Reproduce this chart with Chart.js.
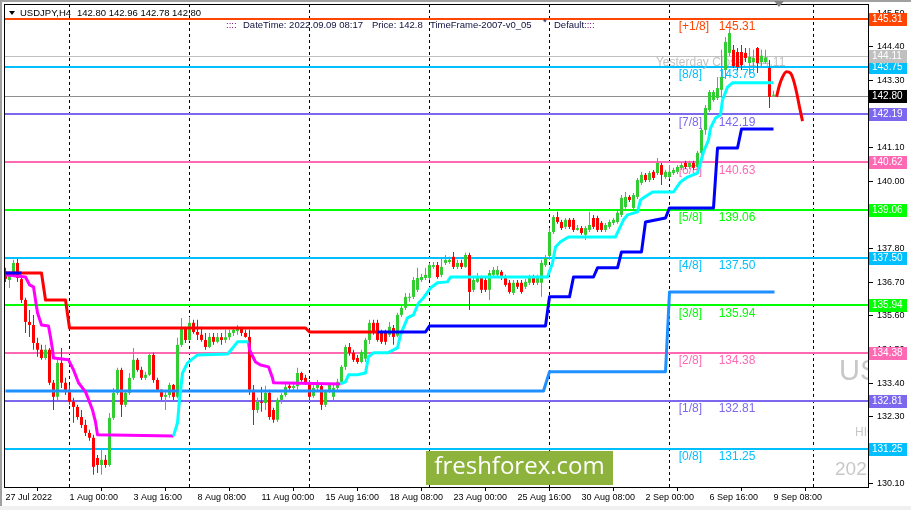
<!DOCTYPE html>
<html>
<head>
<meta charset="utf-8">
<script src="https://cdn.jsdelivr.net/npm/chart.js@4.4.0/dist/chart.umd.min.js"></script>
<style>
html, body { margin: 0; padding: 0; background: #fff; }
canvas { display: block; }
</style>
</head>
<body>
<canvas id="chart" width="911" height="510"></canvas>
<script>
// USDJPY H4, bar 0 = 27 Jul 2022 08:00 ... bar 192 = 9 Sep 2022 08:00
// rows: [open, high, low, close]
const ohlc = [
  [137.04,137.17,136.71,136.81],[136.77,137.04,136.51,136.94],[136.94,137.43,136.87,137.33],[137.33,137.46,136.71,136.84],
  [136.80,136.84,136.02,136.12],[136.12,136.19,135.04,135.40],[135.40,135.79,134.91,135.30],[135.30,135.63,134.49,134.71],
  [134.71,134.88,134.26,134.49],[134.49,134.65,134.16,134.22],[134.22,134.65,134.16,134.49],[134.49,134.55,133.34,133.41],
  [133.41,133.50,132.52,132.95],[132.95,134.16,132.85,134.06],[134.06,134.55,133.24,133.41],[133.41,133.57,133.01,133.18],
  [133.18,133.34,132.69,132.79],[132.79,132.92,132.10,132.62],[132.62,132.69,132.20,132.29],[132.29,132.52,131.93,132.03],
  [132.03,132.20,131.67,131.77],[131.77,131.87,131.51,131.61],[131.61,131.71,130.40,130.66],[130.95,131.05,130.46,130.72],
  [130.72,131.22,130.40,130.89],[130.89,131.05,130.63,130.72],[130.72,132.42,130.66,132.26],[132.26,133.24,132.20,133.08],
  [133.08,133.90,133.01,133.83],[133.83,133.90,132.29,132.69],[132.69,133.18,132.62,133.08],[133.08,133.73,133.01,133.57],
  [133.57,134.55,133.50,134.16],[134.16,134.22,133.77,133.83],[133.83,133.93,133.50,133.57],[133.57,133.77,133.50,133.67],
  [133.67,134.39,133.63,134.32],[134.32,134.39,133.41,133.50],[133.50,133.57,133.11,133.18],[133.18,133.20,132.85,132.95],
  [132.95,133.11,132.52,133.01],[133.01,133.41,132.92,133.34],[133.34,133.37,132.85,132.95],[132.95,134.88,132.90,134.65],
  [134.65,135.53,134.58,135.20],[135.20,135.24,134.71,134.81],[134.81,135.56,134.78,135.37],[135.37,135.47,135.01,135.07],
  [135.07,135.47,134.81,134.98],[134.98,135.24,134.75,134.81],[134.81,135.04,134.49,134.58],[134.58,135.04,134.55,134.91],
  [134.91,135.04,134.65,134.75],[134.75,135.04,134.70,134.90],[134.90,135.04,134.65,134.81],[134.81,135.14,134.71,134.90],
  [134.90,135.14,134.81,135.04],[135.04,135.24,134.94,135.14],[135.10,135.30,134.98,135.20],[135.20,135.24,134.94,135.04],
  [135.04,135.14,134.88,134.91],[134.91,135.14,133.01,133.18],[133.18,133.34,132.03,132.52],[132.52,132.92,132.42,132.79],
  [132.79,133.27,132.46,132.75],[132.75,133.31,132.52,133.08],[133.08,133.18,132.20,132.29],[132.52,132.59,132.10,132.20],
  [132.20,132.92,132.13,132.85],[132.85,133.08,132.72,133.01],[133.01,133.44,132.95,133.27],[133.31,133.37,133.18,133.24],
  [133.24,133.44,133.11,133.30],[133.30,133.90,133.18,133.73],[133.73,133.77,133.44,133.50],[133.57,133.67,133.34,133.41],
  [133.41,133.50,132.85,132.95],[132.98,133.34,132.92,133.24],[133.24,133.50,133.11,133.34],[133.30,133.40,132.52,132.69],
  [132.69,133.18,132.62,133.11],[133.11,133.41,133.08,133.34],[132.95,133.34,132.85,133.24],[133.24,133.54,133.18,133.44],
  [133.44,133.99,133.37,133.93],[133.93,134.65,133.83,134.58],[134.58,134.71,134.29,134.39],[134.39,134.49,134.09,134.16],
  [134.22,134.32,134.03,134.09],[134.09,134.49,134.05,134.42],[134.20,134.88,134.09,134.81],[134.81,135.47,134.68,135.37],
  [135.37,135.47,134.98,135.07],[135.37,135.47,134.75,134.81],[135.04,135.14,134.68,134.75],[135.04,135.14,134.65,134.75],
  [134.98,135.40,134.91,135.24],[135.20,135.30,134.65,134.91],[134.95,135.70,134.90,135.63],[135.63,135.96,135.56,135.86],
  [135.86,136.35,135.79,136.22],[136.19,136.35,136.06,136.22],[136.22,136.87,136.15,136.77],[136.45,137.17,136.38,136.84],
  [136.77,136.97,136.71,136.87],[136.84,137.17,136.77,136.94],[136.84,137.33,136.77,137.26],[137.20,137.36,137.13,137.26],
  [137.26,137.36,136.81,136.87],[136.94,137.49,136.87,137.20],[137.33,137.59,137.26,137.43],[137.36,137.53,137.30,137.43],
  [137.53,137.69,137.13,137.20],[137.20,137.43,137.13,137.33],[137.33,137.43,137.13,137.20],[137.20,137.66,137.17,137.59],
  [137.59,137.66,135.79,136.38],[136.45,136.87,136.38,136.77],[136.71,137.00,136.68,136.87],[136.84,136.91,136.35,136.45],
  [136.77,136.84,136.38,136.45],[136.45,137.10,136.12,137.00],[136.94,137.20,136.87,137.10],[136.94,137.23,136.87,137.10],
  [137.04,137.10,136.77,136.84],[136.84,136.94,136.55,136.61],[136.68,136.77,136.32,136.38],[136.35,136.77,136.28,136.68],
  [136.68,136.77,136.48,136.55],[136.68,136.77,136.32,136.38],[136.55,136.81,136.48,136.71],[136.68,136.94,136.61,136.84],
  [136.84,136.94,136.61,136.68],[136.68,136.94,136.61,136.84],[136.68,137.43,136.22,137.33],[137.26,137.59,137.20,137.49],
  [137.56,138.47,137.43,138.34],[138.34,138.90,138.28,138.83],[138.83,139.00,138.61,138.67],[138.67,138.74,138.41,138.47],
  [138.51,138.80,138.44,138.74],[138.74,138.80,138.44,138.51],[138.74,138.80,138.34,138.41],[138.41,138.57,138.38,138.47],
  [138.47,138.54,138.25,138.31],[138.25,138.54,138.08,138.47],[138.41,139.00,138.34,138.57],[138.80,138.90,138.44,138.51],
  [138.80,138.87,138.34,138.41],[138.64,138.70,138.34,138.41],[138.41,138.64,138.34,138.57],[138.51,138.74,138.44,138.67],
  [138.64,138.80,138.57,138.74],[138.67,139.06,138.61,138.97],[138.90,139.55,138.83,139.46],[139.16,139.65,139.10,139.49],
  [139.49,139.55,139.32,139.39],[139.13,139.62,139.06,139.55],[139.49,140.11,139.42,140.04],[139.95,140.31,139.88,140.21],
  [140.21,140.27,139.98,140.04],[140.04,140.34,139.98,140.27],[140.31,140.37,140.04,140.11],[140.27,140.76,140.21,140.60],
  [140.53,140.60,139.88,140.21],[140.14,140.37,140.08,140.31],[140.14,140.53,140.08,140.31],[140.27,140.44,140.21,140.37],
  [140.31,140.53,140.24,140.47],[140.44,140.63,140.37,140.53],[140.60,140.67,140.40,140.47],[140.47,140.67,140.40,140.60],
  [140.60,140.67,140.37,140.44],[140.47,140.99,140.40,140.93],[140.93,141.74,140.86,141.68],[141.68,142.50,141.52,142.40],
  [142.33,142.99,142.27,142.92],[142.66,142.99,142.60,142.92],[142.73,143.41,142.66,143.05],[142.99,144.30,142.73,143.41],
  [143.64,144.72,143.35,144.56],[144.20,144.98,144.10,144.85],[144.30,144.46,143.71,143.77],[144.23,144.36,143.64,143.74],
  [144.23,144.46,143.64,143.80],[144.20,144.36,143.90,144.03],[143.87,144.36,143.48,144.07],[143.90,144.30,143.58,144.03],
  [144.36,144.39,143.54,143.87],[143.90,144.30,143.71,144.11],[143.90,144.30,143.85,144.05],[143.71,143.97,142.40,142.76],
  [142.80,142.96,142.78,142.80]
];

const timeTicks = [0, 16, 32, 48, 64, 80, 96, 112, 128, 144, 160, 176, 192];
const timeLabels = ['27 Jul 2022', '1 Aug 00:00', '3 Aug 16:00', '8 Aug 08:00', '11 Aug 00:00', '15 Aug 16:00',
  '18 Aug 08:00', '23 Aug 00:00', '25 Aug 16:00', '30 Aug 08:00', '2 Sep 00:00', '6 Sep 16:00', '9 Sep 08:00'];
const priceTicks = [130.10, 131.20, 132.30, 133.40, 134.50, 135.60, 136.70, 137.80, 138.90, 140.00, 141.10, 142.20, 143.30, 144.40, 145.50];
const weekStarts = [16, 46, 76, 106, 136, 166, 202];

// Murrey math levels
const levelValues = [145.31, 143.75, 142.19, 140.62, 139.06, 137.50, 135.94, 134.38, 132.81, 131.25];
const levelNames = ['[+1/8]', '[8/8]', '[7/8]', '[6/8]', '[5/8]', '[4/8]', '[3/8]', '[2/8]', '[1/8]', '[0/8]'];
const levelTexts = ['145.31', '143.75', '142.19', '140.63', '139.06', '137.50', '135.94', '134.38', '132.81', '131.25'];
const levelColors = ['#FF4500', '#00BFFF', '#7B68EE', '#FF69B4', '#00FF00', '#00BFFF', '#00FF00', '#FF69B4', '#7B68EE', '#00BFFF'];
const yesterdayClose = 144.11;
const bidPrice = 142.80;

// indicator lines, [bar, price]
const trendRed = [[0,137.00],[9,137.00],[10,136.12],[15,136.12],[16,135.20],[75,135.20],[76,135.07],[93,135.07]];
const trendBlueStart = [[0,137.00],[4,137.00]];
const trendBlue = [[93,135.07],[105,135.07],[106,135.27],[135,135.27],[136,136.22],[141,136.22],[142,136.87],[147,136.87],
  [148,137.17],[153,137.17],[154,137.69],[159,137.69],[160,138.67],[165,138.80],[166,139.13],[177,139.13],
  [178,141.09],[183,141.09],[184,141.71],[192,141.71]];
const weeklyLine = [[0,133.14],[134.5,133.14],[136,133.77],[165,133.77],[166,136.38],[192.25,136.38]];
const stopDown1 = [[0,136.94],[5,136.87],[6,136.61],[7,136.55],[7.5,136.12],[8,135.70],[9,135.30],[10.75,135.27],
  [11.25,134.91],[11.75,134.49],[12,134.22],[15.75,134.16],[17,133.83],[18.25,133.41],[20,133.11],[20.5,132.95],
  [21.75,132.52],[22.5,132.13],[23,131.71],[42,131.67]];
const stopDown2 = [[60.75,134.75],[61,134.49],[62.5,134.09],[63.75,133.99],[65.75,133.93],[66.75,133.57],[67,133.41],[83.75,133.37]];
const stopUp1 = [[42,131.67],[43,132.10],[43.5,132.85],[44.25,133.73],[45.5,134.06],[48,134.32],[55.5,134.35],[57,134.58],
  [58,134.75],[60.75,134.75]];
const stopUp2 = [[83.75,133.37],[85,133.44],[85.75,133.67],[88,133.67],[90,133.73],[90.75,134.26],[92,134.39],[95.5,134.39],
  [98,134.55],[98.75,134.98],[99.25,135.14],[100.5,135.53],[102,135.63],[103.25,136.02],[104.5,136.19],[106.25,136.51],
  [108,136.68],[110.5,136.71],[111.25,136.87],[135.5,136.87],[136.75,137.33],[137.5,137.85],[138.75,138.02],[140.75,138.18],
  [152.5,138.18],[154.5,138.74],[155.5,138.90],[158,139.00],[158.75,139.39],[159.5,139.46],[161.75,139.65],[167,139.65],
  [168.75,139.98],[170.5,140.14],[173,140.27],[173.75,140.60],[174.5,140.96],[175.75,141.35],[176.25,141.74],[177.5,142.07],
  [178.75,142.17],[179.25,142.66],[180.5,143.08],[181.75,143.22],[192,143.22]];
const forecast = [[192.75,142.76],[193.5,143.15],[194.25,143.41],[195.25,143.58],[196.25,143.54],[197,143.31],
  [197.75,142.92],[198.5,142.43],[199.25,141.97]];

const FONT = '"Liberation Sans", Arial, sans-serif';
const upColor = '#32CD32';
const downColor = '#FF0000';
const candleColors = ohlc.map(c => c[3] >= c[0] ? upColor : downColor);
const tagValues = levelValues.concat([yesterdayClose, bidPrice]);

function pts(list) {
  return list.map(p => ({ x: p[0], y: p[1] }));
}
function lineSet(list, color, width, order, smooth) {
  return {
    type: 'line', data: pts(list), borderColor: color, borderWidth: width,
    pointRadius: 0, tension: smooth ? 0.4 : 0, cubicInterpolationMode: smooth ? 'monotone' : 'default',
    order: order, borderJoinStyle: 'round', fill: false
  };
}

const mt4Plugin = {
  id: 'mt4',
  beforeDraw(chart) {
    const ctx = chart.ctx;
    ctx.save();
    ctx.fillStyle = '#fff';
    ctx.fillRect(0, 0, chart.width, chart.height);
    ctx.fillStyle = '#a0a0a0';
    ctx.fillRect(0, 0, chart.width, 2);
    ctx.fillRect(0, 0, 2, chart.height);
    ctx.fillStyle = '#f0f0f0';
    ctx.fillRect(0, 506, chart.width, 4);
    ctx.restore();
  },
  beforeDatasetsDraw(chart) {
    const { ctx, chartArea: a, scales: { x, y } } = chart;
    ctx.save();
    ctx.beginPath();
    ctx.rect(a.left, a.top, a.right - a.left, a.bottom - a.top);
    ctx.clip();

    // watermark (cut off by the right edge)
    ctx.fillStyle = '#c8c8c8';
    ctx.textAlign = 'left';
    ctx.textBaseline = 'middle';
    ctx.font = '29px ' + FONT;
    ctx.fillText('USDJPY,H4', 839, 372);
    ctx.font = '12px ' + FONT;
    ctx.fillText('HIGH', 855, 433);
    ctx.font = '19px ' + FONT;
    ctx.fillText('2022.09.09', 835, 470);

    // weekly separators
    ctx.strokeStyle = '#000';
    ctx.lineWidth = 1;
    ctx.setLineDash([3, 3]);
    weekStarts.forEach(i => {
      const px = Math.floor(x.getPixelForValue(i)) + 0.5;
      ctx.beginPath();
      ctx.moveTo(px, a.top);
      ctx.lineTo(px, a.bottom);
      ctx.stroke();
    });
    ctx.setLineDash([]);

    // thin price lines
    [[yesterdayClose, '#c0c0c0'], [bidPrice, '#909090']].forEach(([v, c]) => {
      const py = Math.round(y.getPixelForValue(v)) + 0.5;
      ctx.strokeStyle = c;
      ctx.beginPath();
      ctx.moveTo(a.left, py);
      ctx.lineTo(a.right, py);
      ctx.stroke();
    });

    // murrey levels and their labels
    ctx.lineWidth = 2;
    levelValues.forEach((v, k) => {
      const py = Math.round(y.getPixelForValue(v));
      ctx.strokeStyle = levelColors[k];
      ctx.beginPath();
      ctx.moveTo(a.left, py);
      ctx.lineTo(a.right, py);
      ctx.stroke();
    });
    ctx.font = '12px ' + FONT;
    const nameX = x.getPixelForValue(168.3);
    const textX = x.getPixelForValue(178.3);
    levelValues.forEach((v, k) => {
      const py = y.getPixelForValue(v) + 8;
      ctx.fillStyle = levelColors[k];
      ctx.fillText(levelNames[k], nameX, py);
      ctx.fillText(levelTexts[k], textX, py);
    });
    ctx.fillStyle = '#c0c0c0';
    ctx.fillText('Yesterday Close: ' + yesterdayClose.toFixed(2), x.getPixelForValue(162.6), y.getPixelForValue(yesterdayClose) + 7);
    ctx.restore();
  },
  afterDraw(chart) {
    const { ctx, chartArea: a, scales: { y } } = chart;
    ctx.save();
    ctx.strokeStyle = '#000';
    ctx.lineWidth = 1;
    ctx.strokeRect(a.left + 0.5, a.top + 0.5, a.right - a.left, a.bottom - a.top);

    // price tags on the right scale
    const tagColors = levelColors.concat(['#c0c0c0', '#000000']);
    ctx.font = '10px ' + FONT;
    ctx.textAlign = 'left';
    ctx.textBaseline = 'middle';
    tagValues.forEach((v, k) => {
      const py = Math.round(y.getPixelForValue(v));
      ctx.fillStyle = tagColors[k];
      ctx.fillRect(a.right + 1, py - 6, 38, 13);
      ctx.fillStyle = '#fff';
      ctx.fillText(v.toFixed(2), a.right + 4, py + 0.5);
    });

    // header
    ctx.fillStyle = '#000';
    ctx.beginPath();
    ctx.moveTo(9, 11); ctx.lineTo(15, 11); ctx.lineTo(12, 15); ctx.closePath();
    ctx.fill();
    ctx.font = '9.5px ' + FONT;
    ctx.fillText('USDJPY,H4', 20, 13);
    const last = ohlc[ohlc.length - 1];
    ctx.fillText(last.map(v => v.toFixed(2)).join(' '), 77, 13);

    ctx.fillStyle = '#800080';
    ctx.fillText('::::', 226, 25);
    ctx.fillText('::::', 584, 25);
    ctx.fillStyle = '#101040';
    ctx.fillText('DateTime: 2022.09.09 08:17', 243, 25);
    ctx.fillText('Price: ' + bidPrice.toFixed(1), 372, 25);
    ctx.fillText('TimeFrame-2007-v0_05', 430, 25);
    ctx.fillText('*', 543, 22);
    ctx.fillText('Default', 554, 25);

    // shift marker
    ctx.fillStyle = '#808080';
    ctx.beginPath();
    ctx.moveTo(774, 1); ctx.lineTo(784, 1); ctx.lineTo(779, 7); ctx.closePath();
    ctx.fill();

    // logo
    ctx.fillStyle = '#8DB33C';
    ctx.fillRect(426, 451, 187, 34);
    ctx.fillStyle = '#fff';
    ctx.textAlign = 'center';
    ctx.font = '24px "Open Sans", sans-serif';
    ctx.fillText('freshforex.com', 519.5, 467);
    ctx.restore();
  }
};

function noPad(s) {
  s.paddingTop = 0;
  s.paddingBottom = 0;
  s.paddingLeft = 0;
  s.paddingRight = 0;
}

const ctx = document.getElementById('chart').getContext('2d');
const chart = new Chart(ctx, {
  type: 'bar',
  data: {
    datasets: [
      lineSet(forecast, '#FF0000', 3, 1, true),
      lineSet(trendBlueStart, '#0000FF', 3, 2),
      lineSet(trendBlue, '#0000FF', 3, 2),
      lineSet(trendRed, '#FF0000', 3, 3),
      lineSet(stopUp1, '#00FFFF', 3, 4),
      lineSet(stopUp2, '#00FFFF', 3, 4),
      lineSet(stopDown1, '#FF00FF', 3, 4),
      lineSet(stopDown2, '#FF00FF', 3, 4),
      lineSet(weeklyLine, '#1E90FF', 3, 5),
      {
        type: 'bar', label: 'body', order: 10, grouped: false,
        data: ohlc.map((c, i) => ({ x: i, y: [c[0], c[3]] })),
        backgroundColor: candleColors, barThickness: 3, minBarLength: 1,
        borderWidth: 0, inflateAmount: 0
      },
      {
        type: 'bar', label: 'wick', order: 11, grouped: false,
        data: ohlc.map((c, i) => ({ x: i, y: [c[2], c[1]] })),
        backgroundColor: candleColors, barThickness: 1, minBarLength: 1,
        borderWidth: 0, inflateAmount: 0
      }
    ]
  },
  options: {
    responsive: false,
    animation: false,
    devicePixelRatio: 1,
    events: [],
    layout: { padding: { left: 4, top: 4, right: 0, bottom: 0 } },
    plugins: { legend: { display: false }, tooltip: { enabled: false } },
    scales: {
      x: {
        type: 'linear', min: -0.375, max: 215.625, offset: false,
        grid: { drawOnChartArea: false, tickLength: 4, color: '#000' },
        border: { color: '#000' },
        ticks: {
          autoSkip: false, maxRotation: 0, minRotation: 0, align: 'start', padding: 1,
          color: '#000', font: { family: FONT, size: 9 },
          callback: v => timeLabels[timeTicks.indexOf(v)]
        },
        afterBuildTicks: s => { s.ticks = timeTicks.map(v => ({ value: v })); },
        afterFit: s => { s.height = 23; noPad(s); }
      },
      y: {
        type: 'linear', position: 'right', min: 130.00, max: 145.80,
        grid: { drawOnChartArea: false, tickLength: 5, color: '#000' },
        border: { color: '#000' },
        ticks: {
          padding: 4, color: '#000', font: { family: FONT, size: 9 },
          // the terminal hides scale labels that sit under a price tag
          callback: v => tagValues.some(t => Math.abs(t - v) <= 0.12) ? '' : v.toFixed(2)
        },
        afterBuildTicks: s => { s.ticks = priceTicks.map(v => ({ value: v })); },
        afterFit: s => { s.width = 43; noPad(s); }
      }
    }
  },
  plugins: [mt4Plugin]
});
</script>
</body>
</html>
